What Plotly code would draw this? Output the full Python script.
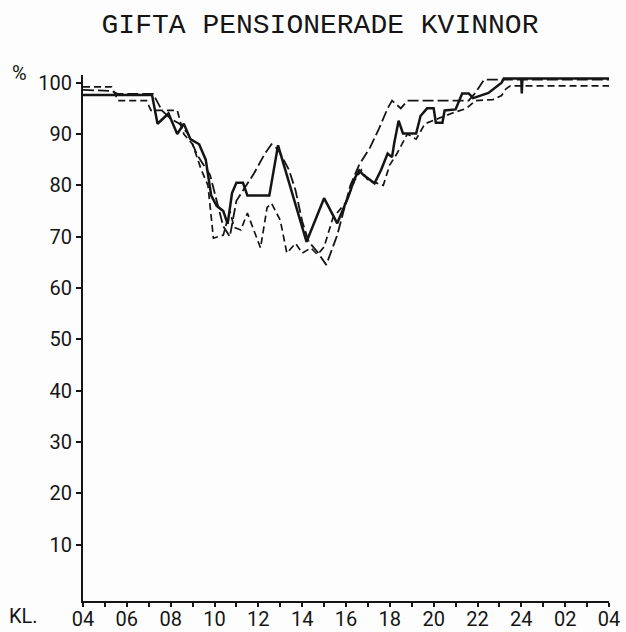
import plotly.graph_objects as go

# Hour of day (4 = 04:00, 28 = 04:00 next morning) and share at home, %
solid_h = [4.0, 7.15, 7.4, 7.9, 8.3, 8.6, 8.9, 9.3, 9.6, 9.85, 10.1, 10.4, 10.6, 10.8,
           11.0, 11.3, 11.5, 12.5, 12.9, 14.2, 15.0, 15.6, 16.1, 16.4, 16.6, 16.8,
           17.3, 17.6, 17.9, 18.1, 18.2, 18.4, 18.6, 19.2, 19.4, 19.7, 20.0, 20.1,
           20.4, 20.5, 21.0, 21.3, 21.6, 21.8, 22.5, 23.1, 23.2, 24.0, 24.02, 24.05, 28.0]
solid_v = [97.6, 97.6, 92.0, 94.0, 90.0, 92.0, 89.0, 88.0, 85.0, 78.0, 76.0, 75.0, 72.5, 78.5,
           80.5, 80.5, 78.0, 78.0, 87.8, 69.0, 77.5, 72.6, 77.7, 81.4, 82.9, 82.0,
           80.4, 83.0, 86.2, 85.5, 88.2, 92.6, 90.1, 90.1, 93.5, 95.0, 95.0, 92.2,
           92.2, 94.6, 94.8, 97.9, 97.9, 97.0, 98.0, 100.0, 100.8, 100.8, 97.9, 100.8, 100.8]

long_h = [4.0, 5.3, 5.6, 7.2, 7.6, 8.0, 8.4, 8.8, 9.2, 9.5, 9.8, 10.1, 10.4, 10.7,
          11.0, 11.3, 11.8, 12.3, 12.6, 12.9, 13.4, 13.7, 14.0, 14.3, 14.7, 15.1,
          15.6, 16.2, 16.6, 17.1, 17.5, 17.9, 18.1, 18.5, 18.8, 21.6, 21.9, 22.3, 28.0]
long_v = [98.6, 98.4, 97.8, 97.8, 94.6, 93.0, 92.0, 90.0, 86.0, 84.0, 82.0, 77.0, 72.0, 70.0,
          77.0, 79.0, 82.3, 86.2, 88.0, 87.0, 83.0, 79.0, 73.0, 69.0, 67.0, 64.5,
          70.3, 80.0, 84.0, 87.4, 91.0, 95.0, 96.5, 95.0, 96.5, 96.5, 98.0, 100.6, 100.6]

short_h = [4.0, 5.3, 5.6, 6.9, 7.1, 8.3, 8.6, 9.0, 9.4, 9.7, 9.95, 10.4, 10.7, 10.9,
           11.2, 11.5, 12.1, 12.4, 12.6, 13.0, 13.3, 13.7, 14.0, 14.4, 14.7, 15.0,
           15.4, 16.0, 16.4, 16.7, 17.0, 17.7, 18.0, 18.3, 18.8, 19.2, 19.6, 20.2,
           20.8, 21.5, 21.9, 22.7, 23.1, 23.3, 23.5, 28.0]
short_v = [99.2, 99.2, 96.5, 96.5, 94.6, 94.6, 90.0, 88.0, 83.0, 80.0, 69.7, 70.3, 75.0, 71.8,
           71.3, 74.6, 67.8, 75.7, 76.5, 73.2, 66.8, 68.7, 66.8, 67.8, 66.5, 68.0,
           73.6, 76.7, 81.0, 83.0, 81.0, 80.0, 84.0, 86.0, 90.0, 89.0, 92.0, 93.0,
           94.0, 95.0, 96.5, 96.7, 97.5, 98.8, 99.4, 99.4]

hour_ticks = list(range(4, 29))
hour_labels = ["04", "", "06", "", "08", "", "10", "", "12", "", "14", "", "16", "",
               "18", "", "20", "", "22", "", "24", "", "02", "", "04"]
pct_ticks = [10, 20, 30, 40, 50, 60, 70, 80, 90, 100]

INK = "#151515"
LABEL_FONT = "Roboto, DejaVu Sans, sans-serif"

fig = go.Figure()
fig.add_trace(go.Scatter(x=long_h, y=long_v, mode="lines",
                         line=dict(color=INK, width=1.8, dash="11px,4px")))
fig.add_trace(go.Scatter(x=short_h, y=short_v, mode="lines",
                         line=dict(color=INK, width=1.7, dash="7px,4px")))
fig.add_trace(go.Scatter(x=solid_h, y=solid_v, mode="lines",
                         line=dict(color=INK, width=2.5)))

fig.update_layout(
    width=626, height=632,
    autosize=False,
    margin=dict(l=83, r=17, t=75, b=31, pad=0, autoexpand=False),
    paper_bgcolor="#fdfdfd", plot_bgcolor="#fdfdfd",
    showlegend=False,
    title=dict(text="GIFTA PENSIONERADE KVINNOR", x=320 / 626, xanchor="center",
               xref="container", y=1 - 23 / 632, yref="container", yanchor="middle",
               automargin=False,
               font=dict(family="Liberation Mono, Courier New, monospace", size=28, color=INK)),
    xaxis=dict(range=[4, 28], tickmode="array", tickvals=hour_ticks, ticktext=hour_labels,
               ticks="outside", ticklen=4, tickwidth=1.5, tickcolor=INK, automargin=False,
               ticklabelstandoff=-5,
               showline=True, linecolor=INK, linewidth=2, showgrid=False, zeroline=False,
               tickfont=dict(family=LABEL_FONT, size=20, color=INK)),
    yaxis=dict(range=[-1, 101.5], tickmode="array", tickvals=pct_ticks, automargin=False,
               ticks="outside", ticklen=5, tickwidth=1.5, tickcolor=INK,
               showline=True, linecolor=INK, linewidth=2, showgrid=False, zeroline=False,
               tickfont=dict(family=LABEL_FONT, size=20, color=INK)),
)

fig.add_annotation(text="%", xref="paper", yref="paper", x=-64 / 526, y=1 + 2 / 527,
                   xanchor="center", yanchor="middle", showarrow=False,
                   font=dict(family=LABEL_FONT, size=20, color=INK))
fig.add_annotation(text="KL.", xref="paper", yref="paper", x=-60 / 526, y=-15 / 527,
                   xanchor="center", yanchor="middle", showarrow=False,
                   font=dict(family=LABEL_FONT, size=20, color=INK))

fig.write_html("out.html")
